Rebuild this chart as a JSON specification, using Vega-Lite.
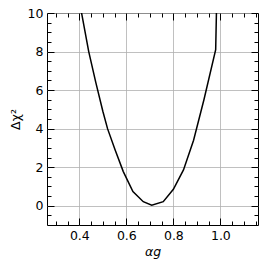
{
  "$schema": "https://vega.github.io/schema/vega-lite/v6.json",
  "autosize": "none",
  "width": 211,
  "height": 212,
  "padding": {"left": 47, "top": 13, "right": 8, "bottom": 41},
  "background": "white",
  "data": {"values": [
    {"a": 0.405, "d": 10.3},
    {"a": 0.44, "d": 8.0},
    {"a": 0.47, "d": 6.4},
    {"a": 0.5, "d": 4.9},
    {"a": 0.52, "d": 4.0},
    {"a": 0.552, "d": 2.9},
    {"a": 0.587, "d": 1.77},
    {"a": 0.628, "d": 0.73},
    {"a": 0.672, "d": 0.21},
    {"a": 0.708, "d": 0.03},
    {"a": 0.757, "d": 0.21},
    {"a": 0.8, "d": 0.85},
    {"a": 0.843, "d": 1.86},
    {"a": 0.886, "d": 3.4},
    {"a": 0.93, "d": 5.5},
    {"a": 0.98, "d": 8.1},
    {"a": 0.984, "d": 10.5}
  ]},
  "resolve": {"axis": {"x": "independent", "y": "independent"}},
  "layer": [
    {
      "mark": {"type": "line", "color": "black", "strokeWidth": 1.5, "clip": true},
      "encoding": {
        "x": {"field": "a", "type": "quantitative",
          "scale": {"domain": [0.2625, 1.16], "nice": false, "zero": false},
          "axis": {"orient": "bottom", "values": [0.4, 0.6, 0.8, 1.0], "format": ".1f",
            "tickSize": -7, "tickColor": "black", "domain": false, "labelFlush": false,
            "labelFontSize": 12.5, "labelColor": "black", "labelPadding": 11, "labelFont": "DejaVu Sans",
            "title": "αg", "titleFont": "DejaVu Sans", "titleFontSize": 12.5, "titleColor": "black",
            "titleFontWeight": "normal", "titleFontStyle": "italic", "titlePadding": 4,
            "grid": true, "gridColor": "#b0b0b0", "gridWidth": 0.8}},
        "y": {"field": "d", "type": "quantitative",
          "scale": {"domain": [-1, 10], "nice": false, "zero": false},
          "axis": {"orient": "left", "values": [0, 2, 4, 6, 8, 10], "format": "d",
            "tickSize": -7, "tickColor": "black", "domain": false, "labelFlush": false,
            "labelFontSize": 12.5, "labelColor": "black", "labelPadding": 11, "labelFont": "DejaVu Sans",
            "title": "Δχ²", "titleFont": "DejaVu Sans", "titleFontSize": 12.5, "titleColor": "black",
            "titleFontWeight": "normal", "titlePadding": 5,
            "grid": true, "gridColor": "#b0b0b0", "gridWidth": 0.8}}
      }
    },
    {
      "mark": {"type": "line", "strokeOpacity": 0},
      "encoding": {
        "x": {"field": "a", "type": "quantitative",
          "scale": {"domain": [0.2625, 1.16], "nice": false, "zero": false},
          "axis": {"orient": "bottom", "values": [0.3, 0.35, 0.45, 0.5, 0.55, 0.65, 0.7, 0.75, 0.85, 0.9, 0.95, 1.05, 1.1, 1.15],
            "tickSize": -4, "tickColor": "black", "domain": false, "labels": false, "title": null, "grid": false}},
        "y": {"field": "d", "type": "quantitative",
          "scale": {"domain": [-1, 10], "nice": false, "zero": false},
          "axis": {"orient": "left", "values": [-0.5, 0.5, 1, 1.5, 2.5, 3, 3.5, 4.5, 5, 5.5, 6.5, 7, 7.5, 8.5, 9, 9.5],
            "tickSize": -4, "tickColor": "black", "domain": false, "labels": false, "title": null, "grid": false}}
      }
    },
    {
      "mark": {"type": "line", "strokeOpacity": 0},
      "encoding": {
        "x": {"field": "a", "type": "quantitative",
          "scale": {"domain": [0.2625, 1.16], "nice": false, "zero": false},
          "axis": {"orient": "top", "values": [0.4, 0.6, 0.8, 1.0],
            "tickSize": -7, "tickColor": "black", "domain": false, "labels": false, "title": null, "grid": false}},
        "y": {"field": "d", "type": "quantitative",
          "scale": {"domain": [-1, 10], "nice": false, "zero": false},
          "axis": {"orient": "right", "values": [0, 2, 4, 6, 8, 10],
            "tickSize": -7, "tickColor": "black", "domain": false, "labels": false, "title": null, "grid": false}}
      }
    },
    {
      "mark": {"type": "line", "strokeOpacity": 0},
      "encoding": {
        "x": {"field": "a", "type": "quantitative",
          "scale": {"domain": [0.2625, 1.16], "nice": false, "zero": false},
          "axis": {"orient": "top", "values": [0.3, 0.35, 0.45, 0.5, 0.55, 0.65, 0.7, 0.75, 0.85, 0.9, 0.95, 1.05, 1.1, 1.15],
            "tickSize": -4, "tickColor": "black", "domain": false, "labels": false, "title": null, "grid": false}},
        "y": {"field": "d", "type": "quantitative",
          "scale": {"domain": [-1, 10], "nice": false, "zero": false},
          "axis": {"orient": "right", "values": [-0.5, 0.5, 1, 1.5, 2.5, 3, 3.5, 4.5, 5, 5.5, 6.5, 7, 7.5, 8.5, 9, 9.5],
            "tickSize": -4, "tickColor": "black", "domain": false, "labels": false, "title": null, "grid": false}}
      }
    }
  ],
  "config": {"view": {"stroke": "black", "strokeWidth": 1}}
}
